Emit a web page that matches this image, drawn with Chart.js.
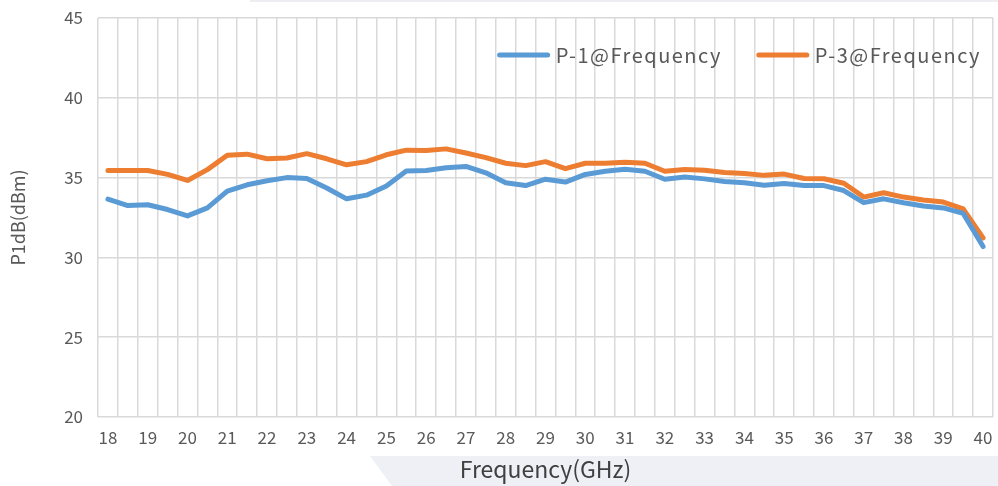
<!DOCTYPE html>
<html>
<head>
<meta charset="utf-8">
<script src="https://cdn.jsdelivr.net/npm/chart.js@4"></script>
<style>
  html, body { margin: 0; padding: 0; background: #fff; }
  #wrap { width: 998px; height: 486px; }
</style>
</head>
<body>
<div id="wrap"><canvas id="chart-p1db"></canvas></div>
<script>
// 주파수 (GHz), 0.5 GHz 간격
const frequencies = ['18', '18.5', '19', '19.5', '20', '20.5', '21', '21.5', '22', '22.5',
    '23', '23.5', '24', '24.5', '25', '25.5', '26', '26.5', '27', '27.5',
    '28', '28.5', '29', '29.5', '30', '30.5', '31', '31.5', '32', '32.5',
    '33', '33.5', '34', '34.5', '35', '35.5', '36', '36.5', '37', '37.5',
    '38', '38.5', '39', '39.5', '40'];

const p1Values = [33.65, 33.25, 33.3, 33.0, 32.6, 33.1, 34.15, 34.55, 34.8, 35.0,
    34.95, 34.35, 33.67, 33.9, 34.48, 35.42, 35.44, 35.62, 35.7, 35.3,
    34.68, 34.5, 34.9, 34.72, 35.2, 35.4, 35.52, 35.4, 34.9, 35.04,
    34.92, 34.75, 34.68, 34.52, 34.63, 34.5, 34.5, 34.19, 33.43, 33.67,
    33.42, 33.22, 33.1, 32.76, 30.68];

const p3Values = [35.44, 35.44, 35.44, 35.2, 34.82, 35.5, 36.4, 36.47, 36.18, 36.23,
    36.5, 36.18, 35.8, 36.0, 36.43, 36.72, 36.7, 36.8, 36.54, 36.25,
    35.9, 35.75, 36.0, 35.56, 35.9, 35.9, 35.96, 35.9, 35.4, 35.51,
    35.46, 35.32, 35.26, 35.14, 35.22, 34.94, 34.93, 34.65, 33.78, 34.05,
    33.78, 33.6, 33.47, 33.04, 31.22];

const yTicks = [20, 25, 30, 35, 40, 45];

const FONT = "'Noto Sans CJK SC', 'Noto Sans', sans-serif";
const TEXT_COLOR = '#595959';
const GRID_COLOR = '#d9d9d9';

// 배경 장식 (상단 라인, 하단 회색 사다리꼴)
const backdropPlugin = {
    id: 'backdrop',
    beforeDraw(chart) {
        const { ctx, width, height } = chart;
        ctx.save();
        ctx.fillStyle = '#eceef3';
        ctx.fillRect(250, 0, width - 250, 2);
        ctx.fillStyle = '#eef0f5';
        ctx.beginPath();
        ctx.moveTo(370, 456);
        ctx.lineTo(width, 456);
        ctx.lineTo(width, height);
        ctx.lineTo(392, height);
        ctx.closePath();
        ctx.fill();
        ctx.restore();
    }
};

// 플롯 영역 안쪽 우상단 범례
const innerLegendPlugin = {
    id: 'innerLegend',
    afterDatasetsDraw(chart) {
        const { ctx, chartArea } = chart;
        const sets = chart.data.datasets;
        const lineLen = 52, lineGap = 6, itemGap = 35;
        ctx.save();
        ctx.font = '20px ' + FONT;
        ctx.letterSpacing = '1.5px';
        ctx.textBaseline = 'middle';
        const widths = sets.map(ds => ctx.measureText(ds.label).width);
        let total = 0;
        widths.forEach((w, i) => { total += lineLen + lineGap + w + (i ? itemGap : 0); });
        let x = chartArea.right - 12 - total;
        const y = chartArea.top + 37;
        sets.forEach((ds, i) => {
            ctx.strokeStyle = ds.borderColor;
            ctx.lineWidth = 5;
            ctx.lineCap = 'round';
            ctx.beginPath();
            ctx.moveTo(x + 2, y);
            ctx.lineTo(x + lineLen - 2, y);
            ctx.stroke();
            ctx.fillStyle = TEXT_COLOR;
            ctx.fillText(ds.label, x + lineLen + lineGap, y);
            x += lineLen + lineGap + widths[i] + itemGap;
        });
        ctx.restore();
    }
};

const ctx = document.getElementById('chart-p1db').getContext('2d');
new Chart(ctx, {
    type: 'line',
    data: {
        labels: frequencies,
        datasets: [{
            label: 'P-1@Frequency',
            data: p1Values,
            borderColor: '#5b9bd5',
            borderWidth: 5,
            pointRadius: 0,
            tension: 0,
            borderJoinStyle: 'round',
            borderCapStyle: 'round',
        }, {
            label: 'P-3@Frequency',
            data: p3Values,
            borderColor: '#ed7d31',
            borderWidth: 5,
            pointRadius: 0,
            tension: 0,
            borderJoinStyle: 'round',
            borderCapStyle: 'round',
        }]
    },
    options: {
        responsive: true,
        maintainAspectRatio: false,
        animation: false,
        layout: { padding: { left: 0, right: 5, top: 18, bottom: 0 } },
        plugins: {
            legend: { display: false },
            tooltip: { enabled: false }
        },
        scales: {
            x: {
                offset: true,
                grid: { offset: true, color: GRID_COLOR, lineWidth: 1.5, drawTicks: false },
                border: { display: false },
                ticks: {
                    autoSkip: false,
                    maxRotation: 0,
                    padding: 10,
                    color: TEXT_COLOR,
                    font: { family: FONT, size: 17 },
                    callback: function (v) {
                        const lab = this.getLabelForValue(v);
                        return lab.indexOf('.') < 0 ? lab : '';
                    }
                },
                title: {
                    display: true,
                    text: 'Frequency(GHz)',
                    color: '#404040',
                    font: { family: FONT, size: 23 },
                    padding: { top: 0, bottom: 3 }
                },
                afterFit: s => { s.height = 69; s.paddingLeft = 0; s.paddingRight = 0; }
            },
            y: {
                min: yTicks[0],
                max: yTicks[yTicks.length - 1],
                afterBuildTicks: s => { s.ticks = yTicks.map(v => ({ value: v })); },
                grid: { color: GRID_COLOR, lineWidth: 1.5, drawTicks: false },
                border: { display: false },
                ticks: {
                    padding: 15,
                    color: TEXT_COLOR,
                    font: { family: FONT, size: 17 }
                },
                title: {
                    display: true,
                    text: 'P1dB(dBm)',
                    color: TEXT_COLOR,
                    font: { family: FONT, size: 18 },
                    padding: { top: 7, bottom: 0 }
                },
                afterFit: s => { s.width = 98; s.paddingTop = 0; s.paddingBottom = 0; }
            }
        }
    },
    plugins: [backdropPlugin, innerLegendPlugin]
});
</script>
</body>
</html>
